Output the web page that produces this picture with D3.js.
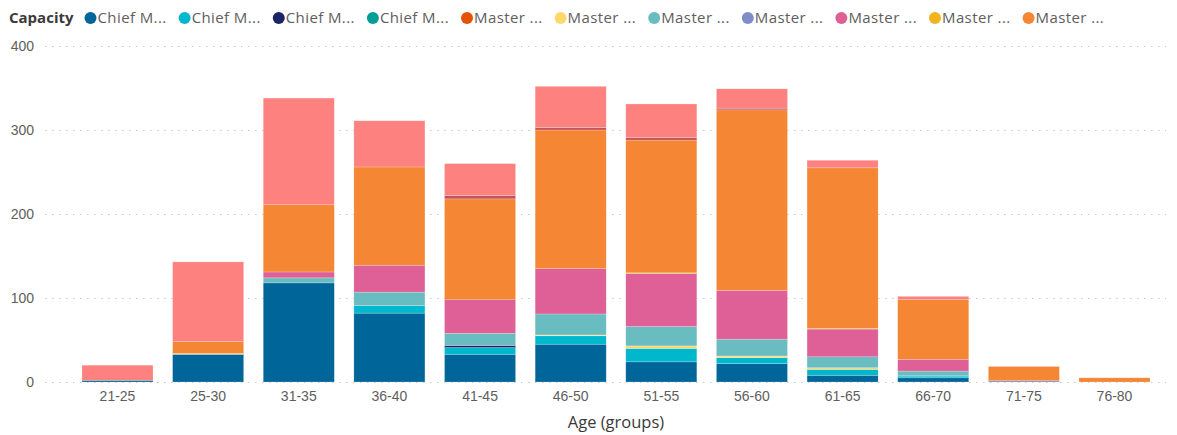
<!DOCTYPE html>
<html>
<head>
<meta charset="utf-8">
<title>Capacity by Age (groups)</title>
<style>
  body { margin: 0; background: #fff; }
  svg { display: block; font-family: "Segoe UI", "Open Sans", sans-serif; }
  .grid line { stroke: #c8c6c4; stroke-dasharray: 1.5,5.5; }
  .tick text { fill: #605e5c; font-size: 14px; }
</style>
</head>
<body>
<div id="viz"></div>
<script src="https://cdn.jsdelivr.net/npm/d3@7"></script>
<script>
// age groups on the x axis
var ageGroups = ["21-25","25-30","31-35","36-40","41-45","46-50","51-55","56-60","61-65","66-70","71-75","76-80"];

// legend labels (truncated as in the report)
var seriesNames = ["Chief M...","Chief M...","Chief M...","Chief M...","Master ...","Master ...","Master ...","Master ...","Master ...","Master ...","Master ...","Master ...","Master ..."];
var seriesColors = ["#00669a","#00b8ce","#1b2464","#009e96","#e35205","#ffd86c","#69bcc0","#7e8cc8","#de6096","#efb420","#f48634","#c4535b","#fd817f"];

// values per series, one per age group
var chiefM1  = [2, 33, 118, 82, 33, 45, 24, 22, 8, 5, 0, 0];
var chiefM2  = [0, 0, 0, 9, 8, 10, 16, 7, 7, 2, 0, 0];
var chiefM3  = [0, 0, 0, 0, 2.5, 0, 0, 0, 0, 0, 0, 0];
var chiefM4  = [0, 0, 0, 0, 0, 0, 0, 0, 0, 1, 0, 0];
var masterA  = [0, 0, 0, 0, 0, 0, 0, 0, 0, 0, 0, 0];
var masterB  = [0, 1, 0, 0, 0, 1, 3, 2, 2, 0, 0, 0];
var masterC  = [0, 0, 6, 16, 14.5, 25, 23, 20, 13, 5, 0, 0];
var masterD  = [0, 0, 0, 0, 0, 0, 0, 0, 0, 0, 1.5, 0];
var masterE  = [0, 0, 7, 32, 40, 54, 63, 58, 33, 14, 0, 0];
var masterF  = [0, 0, 0, 0, 0, 0, 1, 0, 1, 0, 0, 0];
var masterG  = [0, 14, 80, 117, 120, 165, 158, 215, 191, 71, 17, 5];
var masterH  = [0, 0, 0, 0, 4, 3, 3, 2, 0, 0, 0, 0];
var masterI  = [18, 95, 127, 55, 38, 49, 40, 23, 9, 4, 0, 0];

var yTicks = [0, 100, 200, 300, 400];

(function() {
  var allSeries = [chiefM1, chiefM2, chiefM3, chiefM4, masterA, masterB, masterC, masterD, masterE, masterF, masterG, masterH, masterI];
  var keys = allSeries.map(function(d, i) { return "s" + i; });

  var table = ageGroups.map(function(g, j) {
    var row = { group: g };
    allSeries.forEach(function(s, i) { row[keys[i]] = s[j]; });
    return row;
  });

  var W = 1177, H = 435;
  var color = d3.scaleOrdinal().domain(keys).range(seriesColors);

  var x = d3.scaleBand().domain(ageGroups).range([72, 1160]).paddingInner(0.216).paddingOuter(0.11);
  var y = d3.scaleLinear().domain([0, 400]).range([382, 46]);

  var svg = d3.select("#viz").append("svg").attr("width", W).attr("height", H);

  // gridlines
  svg.append("g").attr("class", "grid")
    .selectAll("line").data(yTicks).enter().append("line")
      .attr("x1", 45).attr("x2", 1166)
      .attr("y1", function(d) { return Math.round(y(d)) + 0.5; })
      .attr("y2", function(d) { return Math.round(y(d)) + 0.5; });

  // y axis
  var yAxis = svg.append("g").attr("transform", "translate(34,0)")
    .call(d3.axisLeft(y).tickValues(yTicks).tickSize(0).tickPadding(0));
  yAxis.select(".domain").remove();
  yAxis.selectAll("text").attr("dy", "0.32em");

  // x axis
  var xAxis = svg.append("g").attr("transform", "translate(0,382)")
    .call(d3.axisBottom(x).tickSize(0).tickPadding(9));
  xAxis.select(".domain").remove();

  svg.append("text")
    .attr("x", x.range()[0] + (x.range()[1] - x.range()[0]) / 2)
    .attr("y", 428)
    .attr("text-anchor", "middle")
    .style("font-size", "16.5px")
    .style("fill", "#3b3a39")
    .text("Age (groups)");

  // stacked bars
  var stacked = d3.stack().keys(keys)(table);
  svg.append("g").selectAll("g").data(stacked).enter().append("g")
      .attr("fill", function(d) { return color(d.key); })
    .selectAll("rect").data(function(d) { return d; }).enter().append("rect")
      .attr("x", function(d) { return x(d.data.group); })
      .attr("width", x.bandwidth())
      .attr("y", function(d) { return y(d[1]); })
      .attr("height", function(d) { return Math.max(0, y(d[0]) - y(d[1])); })
      .attr("stroke", "rgba(255,255,255,0.35)")
      .attr("stroke-width", 0.6);

  // legend
  var legend = svg.append("g").attr("transform", "translate(9,18)");
  var title = legend.append("text")
    .attr("dy", "0.35em")
    .style("font-size", "15px")
    .style("font-weight", "bold")
    .style("fill", "#3b3a39")
    .text("Capacity");

  var lx = title.node().getComputedTextLength() + 17;
  for (var i = 0; i < keys.length; i++) {
    var item = legend.append("g").attr("transform", "translate(" + lx + ",0)");
    item.append("circle").attr("r", 6).attr("fill", color(keys[i]));
    var t = item.append("text")
      .attr("x", 7).attr("dy", "0.35em")
      .style("font-size", "15px")
      .style("letter-spacing", "0.4px")
      .style("fill", "#605e5c")
      .text(seriesNames[i]);
    lx += 7 + t.node().getComputedTextLength() + 18;
    if (lx + 80 > 1160) break;
  }
})();
</script>
</body>
</html>
